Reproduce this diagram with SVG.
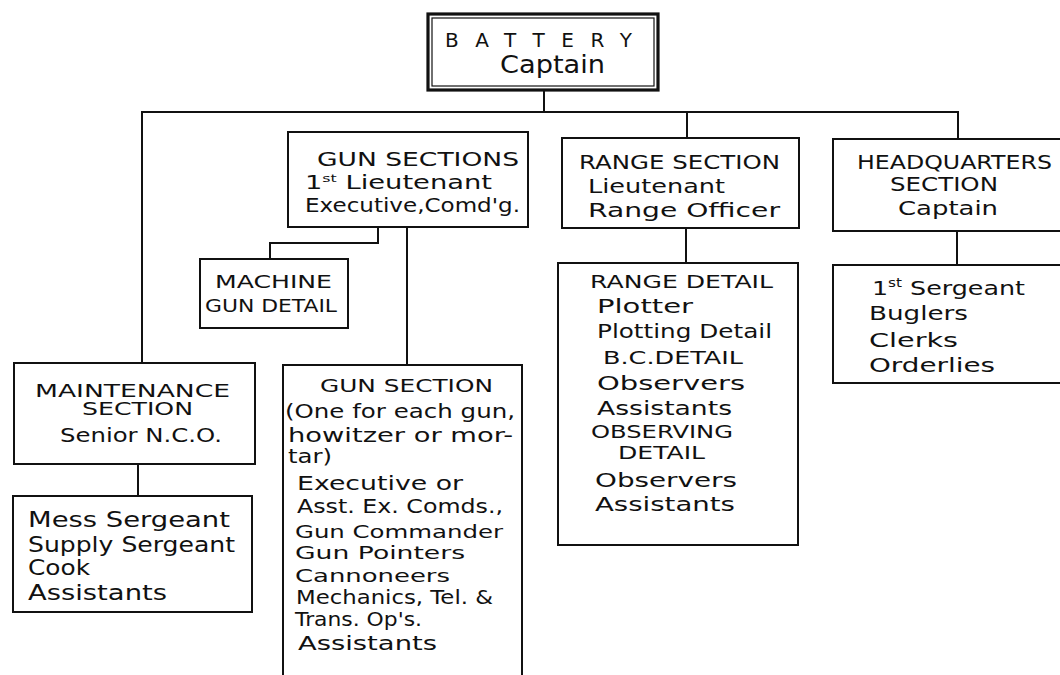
<svg xmlns="http://www.w3.org/2000/svg" width="1060" height="675" viewBox="0 0 1060 675">
<style>
.bg{fill:#fff}
.box{fill:#fff;stroke:#111;stroke-width:2}
.con{fill:none;stroke:#111;stroke-width:2}
text{font-family:"DejaVu Sans","Liberation Sans",sans-serif;fill:#111}
.s17{font-size:17px}.s18{font-size:18px}.s19{font-size:19px}.s20{font-size:20px}.s21{font-size:21px}.s22{font-size:22px}.s24{font-size:24px}
</style>
<rect class="bg" x="0" y="0" width="1060" height="675"/>
<g id="connectors">
<path class="con" d="M544 91V112"/>
<path class="con" d="M142 363V112H958V139"/>
<path class="con" d="M687 112V138"/>
<path class="con" d="M407 227V365"/>
<path class="con" d="M378 227V243H270V259"/>
<path class="con" d="M138 464V496"/>
<path class="con" d="M686 228V263"/>
<path class="con" d="M957 231V265"/>
</g>
<g id="battery">
<rect x="428" y="14" width="230" height="76" fill="#fff" stroke="#111" stroke-width="3.2"/>
<rect x="432" y="18" width="222" height="68" fill="none" stroke="#111" stroke-width="1.2"/>
<text class="s20" x="445" y="47" textLength="187" lengthAdjust="spacing">BATTERY</text>
<text class="s24" x="500" y="73" textLength="105" lengthAdjust="spacingAndGlyphs">Captain</text>
</g>
<g id="gun-sections">
<rect class="box" x="288" y="132" width="240" height="95"/>
<text class="s20" x="317" y="166" textLength="202" lengthAdjust="spacingAndGlyphs">GUN SECTIONS</text>
<text class="s19" x="305" y="189" textLength="187" lengthAdjust="spacingAndGlyphs">1<tspan font-size="11" dy="-7">st</tspan><tspan dy="7"> Lieutenant</tspan></text>
<text class="s19" x="305" y="212" textLength="215" lengthAdjust="spacingAndGlyphs">Executive,Comd'g.</text>
</g>
<g id="range-section">
<rect class="box" x="562" y="138" width="237" height="90"/>
<text class="s19" x="579" y="169" textLength="201" lengthAdjust="spacingAndGlyphs">RANGE SECTION</text>
<text class="s20" x="588" y="193" textLength="137" lengthAdjust="spacingAndGlyphs">Lieutenant</text>
<text class="s20" x="588" y="217" textLength="192" lengthAdjust="spacingAndGlyphs">Range Officer</text>
</g>
<g id="headquarters-section">
<path class="box" d="M1064 139H833V231H1064"/>
<text class="s19" x="857" y="169" textLength="195" lengthAdjust="spacingAndGlyphs">HEADQUARTERS</text>
<text class="s19" x="890" y="191" textLength="108" lengthAdjust="spacingAndGlyphs">SECTION</text>
<text class="s20" x="898" y="215" textLength="100" lengthAdjust="spacingAndGlyphs">Captain</text>
</g>
<g id="machine-gun-detail">
<rect class="box" x="200" y="259" width="148" height="69"/>
<text class="s17" x="215" y="288" textLength="117" lengthAdjust="spacingAndGlyphs">MACHINE</text>
<text class="s17" x="205" y="312" textLength="132" lengthAdjust="spacingAndGlyphs">GUN DETAIL</text>
</g>
<g id="range-detail">
<rect class="box" x="558" y="263" width="240" height="282"/>
<text class="s18" x="590" y="288" textLength="183" lengthAdjust="spacingAndGlyphs">RANGE DETAIL</text>
<text class="s19" x="597" y="313" textLength="96" lengthAdjust="spacingAndGlyphs">Plotter</text>
<text class="s19" x="597" y="338" textLength="175" lengthAdjust="spacingAndGlyphs">Plotting Detail</text>
<text class="s17" x="603" y="364" textLength="140" lengthAdjust="spacingAndGlyphs">B.C.DETAIL</text>
<text class="s20" x="597" y="390" textLength="148" lengthAdjust="spacingAndGlyphs">Observers</text>
<text class="s19" x="597" y="415" textLength="135" lengthAdjust="spacingAndGlyphs">Assistants</text>
<text class="s17" x="591" y="438" textLength="142" lengthAdjust="spacingAndGlyphs">OBSERVING</text>
<text class="s17" x="618" y="459" textLength="87" lengthAdjust="spacingAndGlyphs">DETAIL</text>
<text class="s20" x="595" y="487" textLength="142" lengthAdjust="spacingAndGlyphs">Observers</text>
<text class="s19" x="595" y="511" textLength="140" lengthAdjust="spacingAndGlyphs">Assistants</text>
</g>
<g id="headquarters-detail">
<path class="box" d="M1064 265H833V383H1064"/>
<text class="s20" x="872" y="295" textLength="153" lengthAdjust="spacingAndGlyphs">1<tspan font-size="12" dy="-8">st</tspan><tspan dy="8"> Sergeant</tspan></text>
<text class="s20" x="869" y="320" textLength="99" lengthAdjust="spacingAndGlyphs">Buglers</text>
<text class="s20" x="869" y="347" textLength="89" lengthAdjust="spacingAndGlyphs">Clerks</text>
<text class="s20" x="869" y="372" textLength="126" lengthAdjust="spacingAndGlyphs">Orderlies</text>
</g>
<g id="maintenance-section">
<rect class="box" x="14" y="363" width="241" height="101"/>
<text class="s17" x="35" y="397" textLength="195" lengthAdjust="spacingAndGlyphs">MAINTENANCE</text>
<text class="s17" x="82" y="415" textLength="111" lengthAdjust="spacingAndGlyphs">SECTION</text>
<text class="s19" x="60" y="442" textLength="162" lengthAdjust="spacingAndGlyphs">Senior N.C.O.</text>
</g>
<g id="maintenance-detail">
<rect class="box" x="13" y="496" width="239" height="116"/>
<text class="s22" x="28" y="527" textLength="202" lengthAdjust="spacingAndGlyphs">Mess Sergeant</text>
<text class="s22" x="28" y="552" textLength="207" lengthAdjust="spacingAndGlyphs">Supply Sergeant</text>
<text class="s22" x="28" y="575" textLength="62" lengthAdjust="spacingAndGlyphs">Cook</text>
<text class="s21" x="28" y="600" textLength="139" lengthAdjust="spacingAndGlyphs">Assistants</text>
</g>
<g id="gun-section">
<path class="box" d="M283 678V365H522V678"/>
<text class="s18" x="320" y="392" textLength="173" lengthAdjust="spacingAndGlyphs">GUN SECTION</text>
<text class="s19" x="285" y="418" textLength="230" lengthAdjust="spacingAndGlyphs">(One for each gun,</text>
<text class="s19" x="288" y="442" textLength="225" lengthAdjust="spacingAndGlyphs">howitzer or mor-</text>
<text class="s19" x="288" y="463" textLength="44" lengthAdjust="spacingAndGlyphs">tar)</text>
<text class="s19" x="297" y="490" textLength="166" lengthAdjust="spacingAndGlyphs">Executive or</text>
<text class="s19" x="297" y="513" textLength="206" lengthAdjust="spacingAndGlyphs">Asst. Ex. Comds.,</text>
<text class="s18" x="295" y="538" textLength="208" lengthAdjust="spacingAndGlyphs">Gun Commander</text>
<text class="s18" x="295" y="559" textLength="170" lengthAdjust="spacingAndGlyphs">Gun Pointers</text>
<text class="s18" x="295" y="582" textLength="155" lengthAdjust="spacingAndGlyphs">Cannoneers</text>
<text class="s19" x="296" y="604" textLength="197" lengthAdjust="spacingAndGlyphs">Mechanics, Tel. &amp;</text>
<text class="s19" x="295" y="626" textLength="127" lengthAdjust="spacingAndGlyphs">Trans. Op's.</text>
<text class="s19" x="298" y="650" textLength="139" lengthAdjust="spacingAndGlyphs">Assistants</text>
</g>
</svg>
